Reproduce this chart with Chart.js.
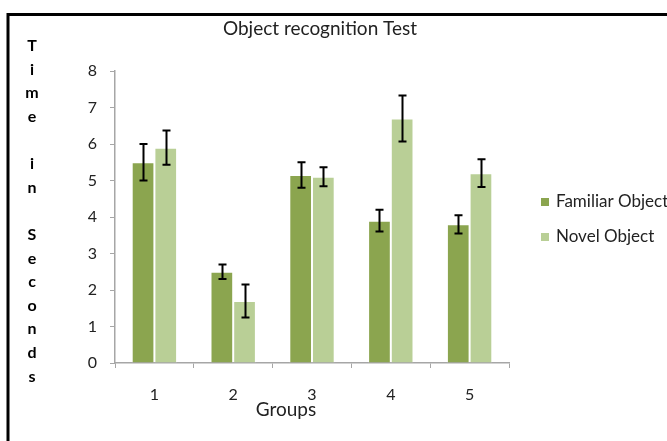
<!DOCTYPE html>
<html>
<head>
<meta charset="utf-8">
<script src="https://cdn.jsdelivr.net/npm/chart.js@4/dist/chart.umd.min.js"></script>
<style>
  html, body { margin: 0; padding: 0; background: #fff; overflow: hidden; }
  #wrap { width: 667px; height: 441px; position: relative; }
</style>
</head>
<body>
<div id="wrap"><canvas id="c" width="667" height="441"></canvas></div>
<script>
const groups = ['1', '2', '3', '4', '5'];
const familiar = [5.5, 2.5, 5.15, 3.9, 3.8];
const familiarErr = [0.5, 0.2, 0.35, 0.3, 0.25];
const novel = [5.9, 1.7, 5.1, 6.7, 5.2];
const novelErr = [0.47, 0.45, 0.26, 0.63, 0.38];
const yTicks = [0, 1, 2, 3, 4, 5, 6, 7, 8];
const chartTitle = 'Object recognition Test';
const yTitleLetters = ['T','i','m','e','','i','n','','S','e','c','o','n','d','s'];
const xTitle = 'Groups';
const seriesNames = ['Familiar Object', 'Novel Object'];
const colors = ['#8BA54F', '#B9CF96'];
const errors = [familiarErr, novelErr];

const FONT = 'Lato, "Open Sans", sans-serif';

const extras = {
  id: 'extras',
  afterDatasetsDraw(chart) {
    const ctx = chart.ctx;
    const y = chart.scales.y;
    ctx.save();
    ctx.strokeStyle = '#000';
    ctx.lineWidth = 2;
    chart.data.datasets.forEach((ds, di) => {
      const meta = chart.getDatasetMeta(di);
      meta.data.forEach((bar, i) => {
        const v = ds.data[i], e = errors[di][i];
        const yt = y.getPixelForValue(v + e), yb = y.getPixelForValue(v - e);
        const x = Math.round(bar.x) + 0.5;
        ctx.beginPath();
        ctx.moveTo(x, yt); ctx.lineTo(x, yb);
        ctx.moveTo(x - 4, yt); ctx.lineTo(x + 4, yt);
        ctx.moveTo(x - 4, yb); ctx.lineTo(x + 4, yb);
        ctx.stroke();
      });
    });
    ctx.restore();
  },
  afterDraw(chart) {
    const ctx = chart.ctx;
    ctx.save();
    ctx.strokeStyle = '#000';
    ctx.lineWidth = 3;
    ctx.strokeRect(8, 14.5, 800, 600);
    ctx.fillStyle = '#222';
    ctx.font = '19px ' + FONT;
    ctx.textAlign = 'center';
    ctx.textBaseline = 'middle';
    ctx.fillText(chartTitle, 320, 29);
    ctx.font = 'bold 16px ' + FONT;
    ctx.fillStyle = '#000';
    yTitleLetters.forEach((ch, i) => {
      ctx.fillText(ch, 32, 46 + i * 23.6);
    });
    ctx.font = '19px ' + FONT;
    ctx.fillStyle = '#222';
    ctx.fillText(xTitle, 286, 410);
    ctx.font = '17px ' + FONT;
    ctx.textAlign = 'left';
    seriesNames.forEach((name, i) => {
      const ly = 202 + i * 35;
      ctx.fillStyle = colors[i];
      ctx.fillRect(541, ly - 4, 8, 8);
      ctx.fillStyle = '#222';
      ctx.fillText(name, 556, ly);
    });
    ctx.restore();
  }
};

new Chart(document.getElementById('c'), {
  type: 'bar',
  data: {
    labels: groups,
    datasets: [
      { label: seriesNames[0], data: familiar, backgroundColor: colors[0], borderColor: 'rgba(255,255,255,0.45)', borderWidth: 1, categoryPercentage: 0.576, barPercentage: 1 },
      { label: seriesNames[1], data: novel, backgroundColor: colors[1], borderColor: 'rgba(255,255,255,0.45)', borderWidth: 1, categoryPercentage: 0.576, barPercentage: 1 }
    ]
  },
  options: {
    responsive: false,
    animation: false,
    devicePixelRatio: 1,
    layout: { padding: { left: 0, right: 158, top: 71, bottom: 0 } },
    plugins: { legend: { display: false }, title: { display: false }, tooltip: { enabled: false } },
    scales: {
      x: {
        afterFit(s) { s.height = 78; },
        grid: { drawOnChartArea: false, drawTicks: true, tickLength: 5, color: '#a6a6a6', offset: true },
        border: { color: '#a6a6a6', width: 1.5 },
        ticks: { color: '#222', font: { family: FONT, size: 16 }, padding: 17 }
      },
      y: {
        min: 0, max: 8,
        afterFit(s) { s.width = 115; },
        afterBuildTicks(s) { s.ticks = yTicks.map(v => ({ value: v })); },
        grid: { drawOnChartArea: false, drawTicks: true, tickLength: 5, color: '#a6a6a6' },
        border: { color: '#a6a6a6', width: 1.5 },
        ticks: { color: '#222', font: { family: FONT, size: 16 }, padding: 13 }
      }
    }
  },
  plugins: [extras]
});
</script>
</body>
</html>
